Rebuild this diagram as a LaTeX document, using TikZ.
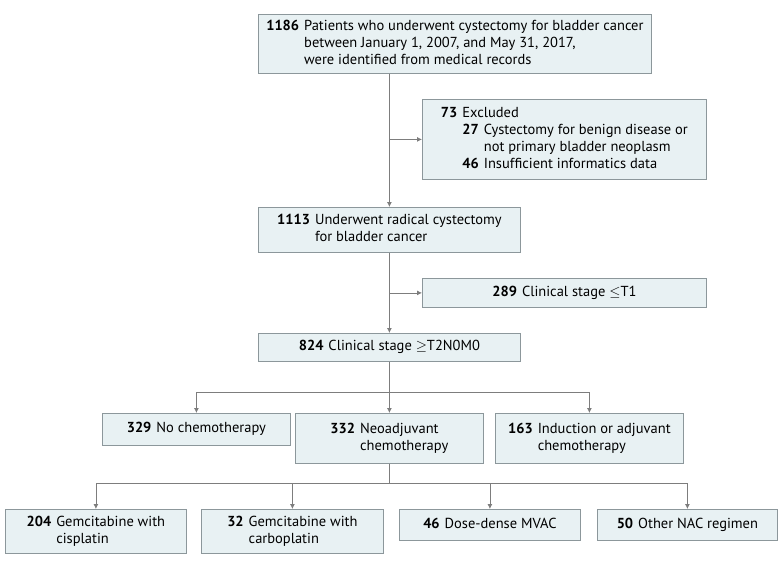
\documentclass[tikz,border=0pt]{standalone}
\usepackage{fontspec}
\setmainfont{PT Sans}
\usetikzlibrary{arrows.meta}
\usetikzlibrary{positioning}
\tikzset{>={Latex[length=5pt,width=5pt]}}
\definecolor{boxfill}{HTML}{E8F1F3}
\definecolor{boxline}{HTML}{8C979B}
\definecolor{linkgray}{HTML}{7D7D7D}
\tikzstyle{cbox} = [draw=boxline, fill=boxfill, line width=0.8pt,
    inner sep=0pt, align=center, anchor=north west,
    font=\fontsize{14.5}{17}\selectfont]
\tikzstyle{link} = [draw=linkgray, line width=0.8pt]
\newcommand{\cnt}[2]{\begin{tabular}{@{}r@{\hspace{5pt}}l@{}}\textbf{#1} & #2\end{tabular}}

\begin{document}
\begin{tikzpicture}[x=1pt,y=-1pt]
\useasboundingbox (0,0) rectangle (780,566);
    %boxes
    \node[cbox, minimum width=393, minimum height=59] (all) at (258,14)
        {\cnt{1186}{Patients who underwent cystectomy for bladder cancer\\
        & between January 1, 2007, and May 31, 2017,\\ & were identified from medical records}};
    \node[cbox, minimum width=284, minimum height=80] (excl) at (422,99)
        {\begin{tabular}{@{}r@{\hspace{5pt}}l@{}}\textbf{73} & Excluded\\
        & \cnt{27}{Cystectomy for benign disease or\\ & not primary bladder neoplasm\\
        \textbf{46} & Insufficient informatics data}\end{tabular}};
    \node[cbox, minimum width=262, minimum height=45] (rc) at (258,207)
        {\cnt{1113}{Underwent radical cystectomy\\ & for bladder cancer}};
    \node[cbox, minimum width=284, minimum height=29] (t1) at (422,278)
        {\cnt{289}{Clinical stage $\le$T1}};
    \node[cbox, minimum width=262, minimum height=28] (t2) at (258,333)
        {\cnt{824}{Clinical stage $\ge$T2N0M0}};
    \node[cbox, minimum width=188, minimum height=32] (nochemo) at (102,413)
        {\cnt{329}{No chemotherapy}};
    \node[cbox, minimum width=188, minimum height=50] (nac) at (295,413)
        {\cnt{332}{Neoadjuvant\\ & chemotherapy}};
    \node[cbox, minimum width=188, minimum height=50] (adj) at (495,413)
        {\cnt{163}{Induction or adjuvant\\ & chemotherapy}};
    \node[cbox, minimum width=181, minimum height=44] (gc) at (5,509)
        {\cnt{204}{Gemcitabine with\\ & cisplatin}};
    \node[cbox, minimum width=182, minimum height=44] (gcarbo) at (201,509)
        {\cnt{32}{Gemcitabine with\\ & carboplatin}};
    \node[cbox, minimum width=181, minimum height=31] (mvac) at (399,509)
        {\cnt{46}{Dose-dense MVAC}};
    \node[cbox, minimum width=180, minimum height=31] (other) at (597,509)
        {\cnt{50}{Other NAC regimen}};
    %links
    \draw[link, ->] (all.south -| rc.north) -- (rc.north);
    \draw[link, ->] (excl.west -| rc.north) -- (excl.west);
    \draw[link, ->] (rc.south) -- (t2.north);
    \draw[link, ->] (t1.west -| rc.south) -- (t1.west);
    \draw[link] (t2.south) -- ++(0,31) coordinate (split1);
    \draw[link, ->] (split1) -| (nochemo.north);
    \draw[link, ->] (split1) -- (nac.north);
    \draw[link, ->] (split1) -| (adj.north);
    \draw[link] (nac.south) -- ++(0,20) coordinate (split2);
    \foreach \n in {gc,gcarbo,mvac,other}
        \draw[link, ->] (split2) -| (\n.north);
\end{tikzpicture}
\end{document}
